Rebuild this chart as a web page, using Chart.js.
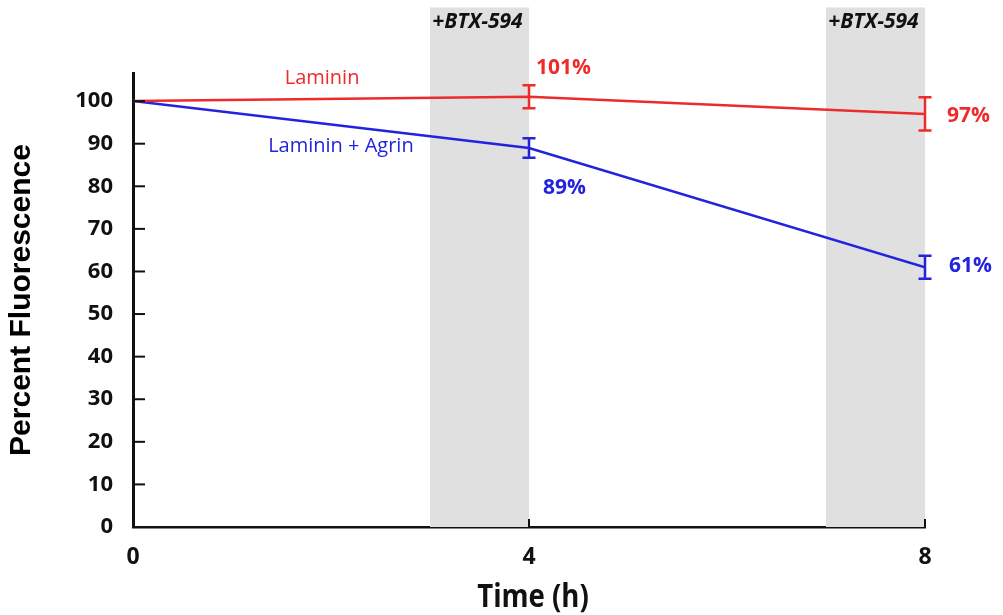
<!DOCTYPE html>
<html>
<head>
<meta charset="utf-8">
<script src="https://cdn.jsdelivr.net/npm/chart.js@4.4.0/dist/chart.umd.min.js"></script>
<style>
html,body{margin:0;padding:0;background:#fff;}
#wrap{width:1003px;height:615px;position:relative;}
</style>
</head>
<body>
<div id="wrap"><canvas id="c" width="1003" height="615"></canvas></div>
<script>
// ---- data ----
const timePoints = [0, 4, 8];
const lamininValues = [100, 101, 97];
const lamininErrors = [0, 2.7, 3.9];
const agrinValues = [100, 89, 61];
const agrinErrors = [0, 2.3, 2.7];
const yTickValues = [0, 10, 20, 30, 40, 50, 60, 70, 80, 90, 100];
const xTickValues = [0, 4, 8];
const bandStarts = [3, 7];
const bandEnds = [4, 8];
const bandLabels = ['+BTX-594', '+BTX-594'];
const lamininPctLabels = ['', '101%', '97%'];
const agrinPctLabels = ['', '89%', '61%'];
const xAxisTitle = 'Time (h)';
const yAxisTitle = 'Percent Fluorescence';

const RED = '#ee2b2b';
const BLUE = '#2323dd';

const decorPlugin = {
  id: 'decor',
  beforeDatasetsDraw(chart) {
    const ctx = chart.ctx, xs = chart.scales.x, ys = chart.scales.y;
    ctx.save();
    const top = ys.getPixelForValue(122);
    const bottom = ys.getPixelForValue(0);
    for (let i = 0; i < bandStarts.length; i++) {
      const x0 = xs.getPixelForValue(bandStarts[i]);
      const x1 = xs.getPixelForValue(bandEnds[i]);
      ctx.fillStyle = '#e0e0e0';
      ctx.fillRect(x0, top, x1 - x0, bottom - top);
      ctx.fillStyle = '#111';
      ctx.font = 'italic bold 21px "Open Sans"';
      ctx.textAlign = 'center';
      ctx.textBaseline = 'middle';
      ctx.fillText(bandLabels[i], (x0 + x1) / 2 - 2, ys.getPixelForValue(118.6));
    }
    ctx.restore();
  },
  afterDatasetsDraw(chart) {
    const ctx = chart.ctx, xs = chart.scales.x, ys = chart.scales.y;
    ctx.save();
    // inward axis ticks
    ctx.strokeStyle = '#111';
    ctx.lineWidth = 2;
    const x0 = xs.getPixelForValue(0);
    yTickValues.forEach(v => {
      if (v === 0) return;
      const y = ys.getPixelForValue(v);
      ctx.beginPath(); ctx.moveTo(x0, y); ctx.lineTo(x0 + 12, y); ctx.stroke();
    });
    const yb = ys.getPixelForValue(0);
    xTickValues.forEach(v => {
      if (v === 0) return;
      const x = xs.getPixelForValue(v);
      ctx.beginPath(); ctx.moveTo(x, yb); ctx.lineTo(x, yb - 8); ctx.stroke();
    });
    // error bars
    const drawErr = (vals, errs, color) => {
      ctx.strokeStyle = color;
      ctx.lineWidth = 2.5;
      vals.forEach((v, i) => {
        if (!errs[i]) return;
        const x = xs.getPixelForValue(timePoints[i]);
        const yt = ys.getPixelForValue(v + errs[i]);
        const ybt = ys.getPixelForValue(v - errs[i]);
        ctx.beginPath();
        ctx.moveTo(x, yt); ctx.lineTo(x, ybt);
        ctx.moveTo(x - 6.5, yt); ctx.lineTo(x + 6.5, yt);
        ctx.moveTo(x - 6.5, ybt); ctx.lineTo(x + 6.5, ybt);
        ctx.stroke();
      });
    };
    drawErr(lamininValues, lamininErrors, RED);
    drawErr(agrinValues, agrinErrors, BLUE);
    // percentage labels
    ctx.font = 'bold 21px "Open Sans"';
    ctx.textAlign = 'left';
    ctx.textBaseline = 'middle';
    const redOff = [null, [7, -29], [22, 2]];
    const blueOff = [null, [14, 40], [24, -1]];
    lamininPctLabels.forEach((t, i) => {
      if (!t) return;
      ctx.fillStyle = RED;
      ctx.fillText(t, xs.getPixelForValue(timePoints[i]) + redOff[i][0], ys.getPixelForValue(lamininValues[i]) + redOff[i][1]);
    });
    agrinPctLabels.forEach((t, i) => {
      if (!t) return;
      ctx.fillStyle = BLUE;
      ctx.fillText(t, xs.getPixelForValue(timePoints[i]) + blueOff[i][0], ys.getPixelForValue(agrinValues[i]) + blueOff[i][1]);
    });
    // series labels
    ctx.font = '20px "Open Sans"';
    ctx.textAlign = 'center';
    ctx.fillStyle = RED;
    ctx.fillText('Laminin', xs.getPixelForValue(1.91), ys.getPixelForValue(105.4));
    ctx.fillStyle = BLUE;
    ctx.fillText('Laminin + Agrin', xs.getPixelForValue(2.1), ys.getPixelForValue(89.3));
    // x axis title (condensed)
    ctx.fillStyle = '#111';
    ctx.font = 'bold 32px "Open Sans"';
    ctx.textAlign = 'center';
    ctx.textBaseline = 'middle';
    const cx = (xs.left + xs.right) / 2;
    ctx.translate(cx + 4, 598);
    ctx.scale(0.86, 1);
    ctx.fillText(xAxisTitle, 0, 0);
    ctx.restore();
  }
};

new Chart(document.getElementById('c'), {
  type: 'line',
  data: {
    datasets: [
      {
        label: 'Laminin',
        data: timePoints.map((t, i) => ({x: t, y: lamininValues[i]})),
        borderColor: RED, borderWidth: 2.5, pointRadius: 0, tension: 0, fill: false
      },
      {
        label: 'Laminin + Agrin',
        data: timePoints.map((t, i) => ({x: t, y: agrinValues[i]})),
        borderColor: BLUE, borderWidth: 2.5, pointRadius: 0, tension: 0, fill: false
      }
    ]
  },
  options: {
    responsive: false,
    animation: false,
    layout: {padding: {left: 0, right: 78, top: 73, bottom: 0}},
    plugins: {legend: {display: false}, tooltip: {enabled: false}},
    scales: {
      x: {
        type: 'linear', min: 0, max: 8,
        afterFit(s) { s.height = 88; },
        afterBuildTicks(s) { s.ticks = xTickValues.map(v => ({value: v})); },
        grid: {display: false},
        border: {display: true, color: '#111', width: 2.5},
        ticks: {
          color: '#111', padding: 9, maxRotation: 0, autoSkip: false,
          font: {family: '"Open Sans", sans-serif', weight: 'bold', size: 23}
        },
        title: {display: false, text: xAxisTitle}
      },
      y: {
        type: 'linear', min: 0, max: 106.6,
        afterFit(s) { s.width = 133; },
        afterBuildTicks(s) { s.ticks = yTickValues.map(v => ({value: v})); },
        grid: {display: false},
        border: {display: true, color: '#111', width: 3},
        ticks: {
          color: '#111', padding: 12,
          font: {family: '"Open Sans", sans-serif', weight: 'bold', size: 22}
        },
        title: {
          display: true, text: yAxisTitle, color: '#000',
          padding: {top: 7, bottom: 0},
          font: {family: '"Liberation Sans", Arial, sans-serif', weight: 'bold', size: 30, lineHeight: 1}
        }
      }
    }
  },
  plugins: [decorPlugin]
});
</script>
</body>
</html>
